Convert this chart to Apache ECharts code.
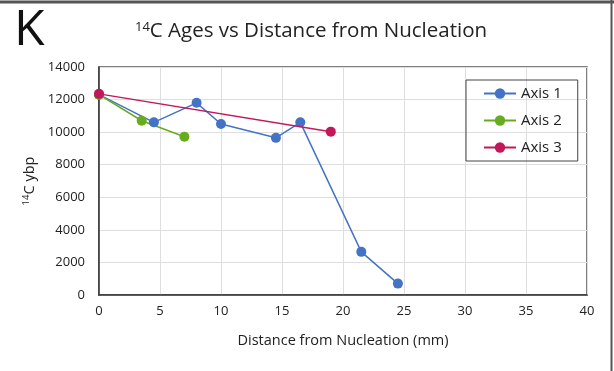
<!DOCTYPE html>
<html>
<head>
<meta charset="utf-8">
<script src="https://cdn.jsdelivr.net/npm/echarts@6/dist/echarts.min.js"></script>
<style>
html,body{margin:0;padding:0;background:#fff;}
#chart{width:614px;height:371px;}
</style>
</head>
<body>
<div id="chart"></div>
<script>
const seriesNames = ['Axis 1', 'Axis 2', 'Axis 3'];
const axis1X = [0, 4.5, 8, 10, 14.5, 16.5, 21.5, 24.5];
const axis1Y = [12300, 10600, 11800, 10500, 9650, 10600, 2650, 700];
const axis2X = [0, 3.5, 7];
const axis2Y = [12300, 10700, 9720];
const axis3X = [0, 19];
const axis3Y = [12350, 10030];
const colors = ['#4472C4', '#66AC1E', '#C2185B'];

function pairs(xs, ys) { return xs.map((x, i) => [x, ys[i]]); }

const chart = echarts.init(document.getElementById('chart'));
const font = '"Open Sans", "Noto Sans", sans-serif';
const dataSets = [pairs(axis1X, axis1Y), pairs(axis2X, axis2Y), pairs(axis3X, axis3Y)];

chart.setOption({
  animation: false,
  backgroundColor: '#fff',
  title: [{
    text: '{sup|14}C Ages vs Distance from Nucleation',
    left: 306, top: 16, textAlign: 'center',
    textStyle: {
      fontFamily: font, fontSize: 20.5, fontWeight: 'normal', color: '#222',
      rich: { sup: { fontFamily: font, fontSize: 13, color: '#222', verticalAlign: 'top', padding: [0, 0, 8, 0] } }
    }
  }, {
    text: 'K', left: 9, top: 1,
    textStyle: { fontFamily: font, fontSize: 50, fontWeight: 'normal', color: '#111' }
  }],
  graphic: [
    { type: 'line', shape: { x1: 0, y1: 2, x2: 614, y2: 2 }, style: { stroke: '#555', lineWidth: 3 } },
    { type: 'line', shape: { x1: 611.5, y1: 0, x2: 611.5, y2: 371 }, style: { stroke: '#555', lineWidth: 2 } }
  ],
  legend: {
    show: true,
    orient: 'vertical',
    left: 466, top: 80,
    padding: [6, 16, 6, 17],
    itemGap: 12,
    itemWidth: 32, itemHeight: 13,
    borderColor: '#444', borderWidth: 1,
    data: seriesNames,
    textStyle: { fontFamily: font, fontSize: 15, color: '#222' }
  },
  grid: {
    left: 99, right: 27, top: 67, bottom: 76,
    show: true, borderColor: '#555', borderWidth: 1.5
  },
  xAxis: {
    type: 'value', min: 0, max: 40, interval: 5,
    name: 'Distance from Nucleation (mm)',
    nameLocation: 'middle', nameGap: 38,
    nameTextStyle: { fontFamily: font, fontSize: 14.5, color: '#222' },
    axisLine: { show: true, lineStyle: { color: '#333', width: 1.5 } },
    axisTick: { show: false },
    axisLabel: { fontFamily: font, fontSize: 13, color: '#222', margin: 10 },
    splitLine: { show: true, lineStyle: { color: '#dedede', width: 1 } }
  },
  yAxis: {
    type: 'value', min: 0, max: 14000, interval: 2000,
    name: '{sup|14}C ybp',
    nameLocation: 'middle', nameGap: 55, nameRotate: 90,
    nameTextStyle: {
      fontFamily: font, fontSize: 14.5, color: '#222',
      rich: { sup: { fontFamily: font, fontSize: 9.5, color: '#222', verticalAlign: 'top', padding: [0, 0, 6, 0] } }
    },
    axisLine: { show: true, lineStyle: { color: '#333', width: 1.5 } },
    axisTick: { show: false },
    axisLabel: { fontFamily: font, fontSize: 13, color: '#222', margin: 14, formatter: v => String(v) },
    splitLine: { show: true, lineStyle: { color: '#dedede', width: 1 } }
  },
  series: seriesNames.map((name, i) => ({
    name: name,
    type: 'line',
    data: dataSets[i],
    symbol: 'circle',
    symbolSize: 10,
    color: colors[i],
    lineStyle: { width: 1.5, color: colors[i] },
    itemStyle: { color: colors[i] },
    z: i === 2 ? 3 : 2
  }))
});
</script>
</body>
</html>
